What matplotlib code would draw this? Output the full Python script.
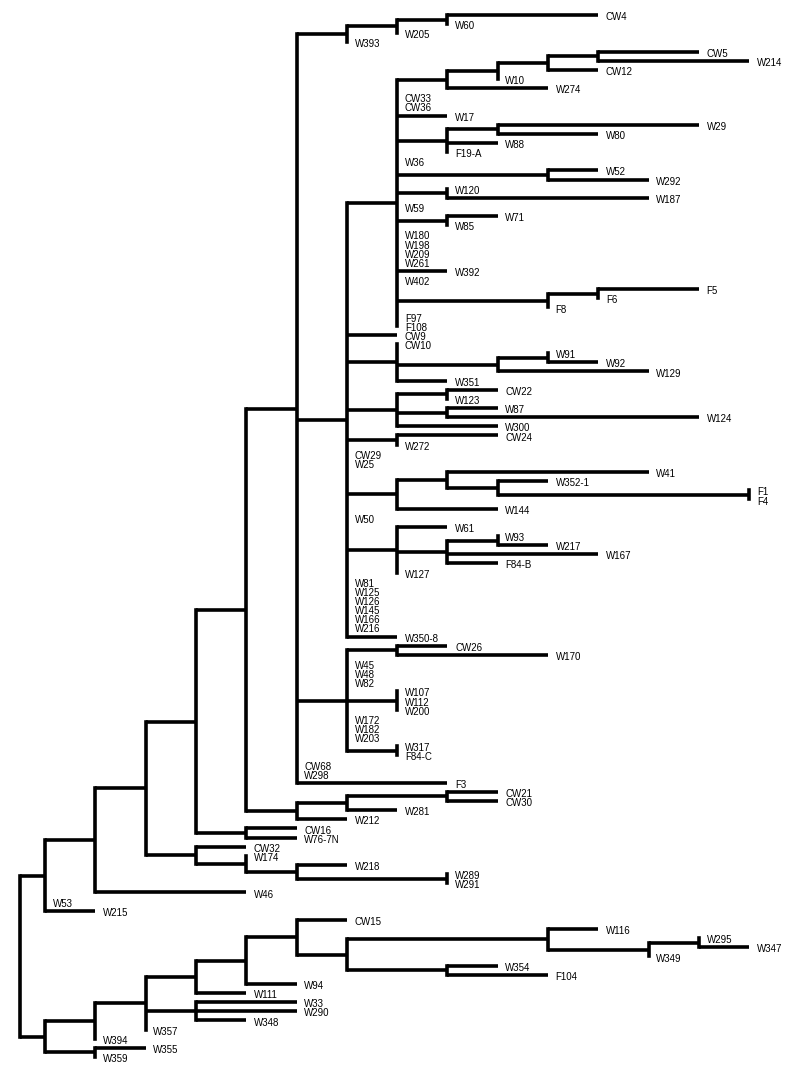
import matplotlib
matplotlib.use("Agg")
import matplotlib.pyplot as plt
from matplotlib.collections import LineCollection

# taxa from top to bottom, with the distance level where each one sits
taxa = ["CW4", "W60", "W205", "W393", "CW5", "W214", "CW12", "W10", "W274",
        "CW33", "CW36", "W17", "W29", "W80", "W88", "F19-A", "W36", "W52",
        "W292", "W120", "W187", "W59", "W71", "W85", "W180", "W198", "W209",
        "W261", "W392", "W402", "F5", "F6", "F8", "F97", "F108", "CW9",
        "CW10", "W91", "W92", "W129", "W351", "CW22", "W123", "W87", "W124",
        "W300", "CW24", "W272", "CW29", "W25", "W41", "W352-1", "F1", "F4",
        "W144", "W50", "W61", "W93", "W217", "W167", "F84-B", "W127", "W81",
        "W125", "W126", "W145", "W166", "W216", "W350-8", "CW26", "W170",
        "W45", "W48", "W82", "W107", "W112", "W200", "W172", "W182", "W203",
        "W317", "F84-C", "CW68", "W298", "F3", "CW21", "CW30", "W281", "W212",
        "CW16", "W76-7N", "CW32", "W174", "W218", "W289", "W291", "W46",
        "W53", "W215", "CW15", "W116", "W295", "W347", "W349", "W354", "F104",
        "W94", "W111", "W33", "W290", "W348", "W357", "W394", "W355", "W359"]
taxon_level = [11, 8, 7, 6, 13, 14, 11, 9, 10,
               7, 7, 8, 13, 11, 9, 8, 7, 11,
               12, 8, 12, 7, 9, 8, 7, 7, 7,
               7, 8, 7, 13, 11, 10, 7, 7, 7,
               7, 10, 11, 12, 8, 9, 8, 9, 13,
               9, 9, 7, 6, 6, 12, 10, 14, 14,
               9, 6, 8, 9, 10, 11, 9, 7, 6,
               6, 6, 6, 6, 6, 7, 8, 10,
               6, 6, 6, 7, 7, 7, 6, 6, 6,
               7, 7, 5, 5, 8, 9, 9, 7, 6,
               5, 5, 4, 4, 6, 8, 8, 4,
               0, 1, 6, 11, 13, 14, 12, 9, 10,
               5, 4, 5, 5, 4, 2, 1, 2, 1]

# clusters: first taxon, last taxon, level of the node
clade_first = ["CW4", "CW4", "CW4", "CW4", "CW4", "CW4", "CW4", "CW4", "CW4",
               "CW4", "CW5", "CW5", "CW5", "CW5", "CW5", "CW5", "W29", "W29",
               "W52", "W120", "W71", "F5", "F5", "CW10", "W91", "W91", "CW22",
               "CW22", "W87", "CW24", "W41", "W41", "W352-1", "F1", "W61",
               "W93", "W93", "CW26", "CW26", "W107", "W317", "CW21", "CW21",
               "CW21", "CW16", "CW32", "W174", "W218", "W289", "CW15", "CW15",
               "CW15", "CW15", "CW15", "CW15", "W116", "W116", "W295", "W295",
               "W354", "W33", "W355"]
clade_last = ["W359", "W215", "W46", "W291", "W76-7N", "W212", "F3", "W393",
              "W205", "W60", "W350-8", "F108", "W274", "W10", "CW12", "W214",
              "F19-A", "W80", "W292", "W187", "W85", "F8", "F6", "W351",
              "W129", "W92", "W300", "W123", "W124", "W272", "W144", "F4", "F4",
              "F4", "W127", "F84-B", "W217", "F84-C", "W170", "W200", "F84-C",
              "W212", "W281", "CW30", "W76-7N", "W291", "W291", "W291", "W291",
              "W359", "W394", "W357", "W111", "W94", "F104", "F104", "W349",
              "W349", "W347", "F104", "W348", "W359"]
clade_level = [-0.5, 0, 1, 2, 3, 4, 5, 6, 7,
               8, 6, 7, 8, 9, 10, 11, 8, 9,
               10, 8, 8, 10, 11, 7, 9, 10, 7,
               8, 8, 7, 7, 8, 9, 14, 7,
               8, 9, 6, 7, 7, 7, 5, 6,
               8, 4, 3, 4, 5, 8, 0, 1,
               2, 3, 4, 5, 6, 10, 12, 13,
               8, 3, 1]

row = {t: i for i, t in enumerate(taxa)}
spans = [(row[a], row[b]) for a, b in zip(clade_first, clade_last)]


def parent_of(lo, hi):
    best = None
    for j, (a, b) in enumerate(spans):
        if a <= lo and hi <= b and (a, b) != (lo, hi):
            if best is None or b - a < spans[best][1] - spans[best][0]:
                best = j
    return best


leaf_parent = [parent_of(i, i) for i in range(len(taxa))]
clade_parent = [parent_of(a, b) for a, b in spans]

children = {j: [] for j in range(len(spans))}
for i, p in enumerate(leaf_parent):
    children[p].append(("leaf", i))
for j, p in enumerate(clade_parent):
    if p is not None:
        children[p].append(("clade", j))

# node height = halfway between its first and last child
clade_y = {}
for j in sorted(range(len(spans)), key=lambda j: spans[j][1] - spans[j][0]):
    ys = sorted(k if kind == "leaf" else clade_y[k] for kind, k in children[j])
    clade_y[j] = (ys[0] + ys[-1]) / 2

verticals = []
horizontals = []
for j in range(len(spans)):
    ys = [k if kind == "leaf" else clade_y[k] for kind, k in children[j]]
    verticals.append([(clade_level[j], min(ys)), (clade_level[j], max(ys))])
    p = clade_parent[j]
    if p is not None:
        horizontals.append([(clade_level[p], clade_y[j]), (clade_level[j], clade_y[j])])
for i, p in enumerate(leaf_parent):
    if taxon_level[i] != clade_level[p]:
        horizontals.append([(clade_level[p], i), (taxon_level[i], i)])

fig = plt.figure(figsize=(7.92, 10.76), dpi=100)
ax = fig.add_axes([0, 0, 1, 1])
ax.add_collection(LineCollection(verticals, colors="black", linewidths=2.6,
                                 capstyle="projecting"))
ax.add_collection(LineCollection(horizontals, colors="black", linewidths=2.6,
                                 capstyle="butt"))

for i, name in enumerate(taxa):
    ax.annotate(name, (taxon_level[i], i), xytext=(5.5, -1.5),
                textcoords="offset points", ha="left", va="center",
                fontsize=7, family=["Liberation Sans", "DejaVu Sans"])

ax.set_xlim(-0.895, 14.85)
ax.set_ylim(116.08, -1.64)
ax.axis("off")

fig.savefig("out.png", dpi=100, facecolor="white")
